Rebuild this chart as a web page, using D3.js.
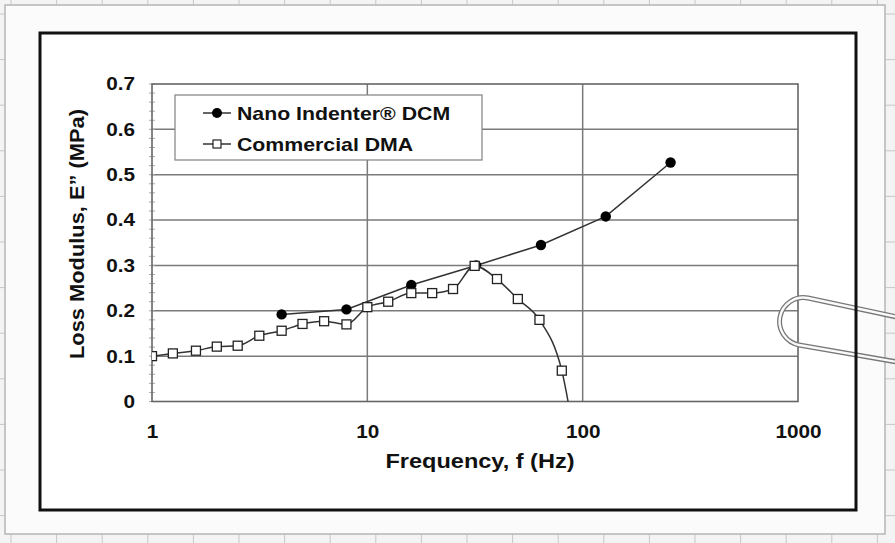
<!DOCTYPE html>
<html>
<head>
<meta charset="utf-8">
<script src="https://cdn.jsdelivr.net/npm/d3@7"></script>
<style>
  body { margin: 0; background: #f4f4f4; }
  svg text { font-family: "Liberation Sans", Arial, sans-serif; font-weight: bold; fill: #111; }
</style>
</head>
<body>
<svg id="chart" width="895" height="543"></svg>
<script>
// data (log frequency axis)
const decades = [1, 10, 100, 1000];
const yTicks = [0, 0.1, 0.2, 0.3, 0.4, 0.5, 0.6, 0.7];
const dcmFreq = [4, 8, 16, 32, 64, 128, 256];
const dcmLoss = [0.192, 0.203, 0.257, 0.300, 0.345, 0.408, 0.527];
const dmaFreq = [1, 1.25, 1.6, 2, 2.5, 3.15, 4, 5, 6.3, 8, 10, 12.5, 16, 20, 25, 31.5, 40, 50, 63, 80, 100];
const dmaLoss = [0.100, 0.106, 0.112, 0.121, 0.123, 0.145, 0.156, 0.171, 0.177, 0.170, 0.208, 0.220, 0.239, 0.239, 0.248, 0.299, 0.270, 0.226, 0.180, 0.068, -0.2];
const seriesNames = ['Nano Indenter® DCM', 'Commercial DMA'];

const svg = d3.select('#chart');
const plot = {left: 152, right: 798, top: 84, bottom: 401.5};
const stretch_k = 1.12;   // scanned text is a little wider than Arial

const x = d3.scaleLog().domain([1, 1000]).range([plot.left, plot.right]);
const y = d3.scaleLinear().domain([0, 0.7]).range([plot.bottom, plot.top]);

const stretch = function(sel){
    sel.each(function(){
        const w = this.getComputedTextLength();
        d3.select(this).attr('textLength', w * stretch_k).attr('lengthAdjust', 'spacingAndGlyphs');
    });
};

// graph paper behind the sheet
const paper = svg.append('g').attr('stroke', '#c8c8c8').attr('stroke-width', 1);
for (let gx = 11; gx < 895; gx += 45.6) paper.append('line').attr('x1', gx).attr('x2', gx).attr('y1', 0).attr('y2', 543);
for (let gy = 14; gy < 543; gy += 45.6) paper.append('line').attr('x1', 0).attr('x2', 895).attr('y1', gy).attr('y2', gy);

svg.append('rect')
    .attr('x', 5).attr('y', 5).attr('width', 880).attr('height', 529)
    .attr('fill', '#fbfbfb').attr('stroke', '#b5b5b5').attr('stroke-width', 1.5);

svg.append('rect')
    .attr('x', 40).attr('y', 33).attr('width', 816).attr('height', 477)
    .attr('fill', '#ffffff');

// gridlines
const grid = svg.append('g').attr('stroke', '#7a7a7a').attr('stroke-width', 1.5);
grid.selectAll('.hg')
    .data(yTicks.filter(d => d > 0 && d < 0.7))
    .enter().append('line')
    .attr('x1', plot.left).attr('x2', plot.right)
    .attr('y1', d => y(d)).attr('y2', d => y(d));
grid.selectAll('.vg')
    .data(decades.slice(1, 3))
    .enter().append('line')
    .attr('y1', plot.top).attr('y2', plot.bottom)
    .attr('x1', d => x(d)).attr('x2', d => x(d));

// minor ticks on the value axis
svg.append('g').attr('stroke', '#aaa').attr('stroke-width', 1)
    .selectAll('line')
    .data(d3.range(0, 0.701, 0.02))
    .enter().append('line')
    .attr('x1', plot.left - 3).attr('x2', plot.left + 3)
    .attr('y1', d => y(d)).attr('y2', d => y(d));

// plot border
svg.append('rect')
    .attr('x', plot.left).attr('y', plot.top)
    .attr('width', plot.right - plot.left).attr('height', plot.bottom - plot.top)
    .attr('fill', 'none').attr('stroke', '#666').attr('stroke-width', 1.6);

// axes
const yAxis = svg.append('g')
    .attr('transform', `translate(${plot.left},0)`)
    .call(d3.axisLeft(y).tickValues(yTicks).tickSize(0).tickPadding(17)
        .tickFormat(d => d === 0 ? '0' : d3.format('.1f')(d)));
yAxis.select('.domain').remove();
yAxis.selectAll('text').style('font-size', '18.5px').attr('font-family', null).call(stretch);

const xAxis = svg.append('g')
    .attr('transform', `translate(0,${plot.bottom})`)
    .call(d3.axisBottom(x).tickValues(decades).tickSize(0).tickPadding(23).tickFormat(d3.format('d')));
xAxis.select('.domain').remove();
xAxis.selectAll('text').style('font-size', '18.5px').attr('font-family', null).call(stretch);

svg.append('text')
    .attr('x', 480).attr('y', 468)
    .attr('text-anchor', 'middle')
    .style('font-size', '21px')
    .text('Frequency, f (Hz)')
    .call(stretch);

svg.append('text')
    .attr('transform', 'translate(84,234) rotate(-90)')
    .attr('text-anchor', 'middle')
    .style('font-size', '19.5px')
    .text('Loss Modulus, E\u201d (MPa)')
    .call(stretch);

// clip to plot area
svg.append('clipPath').attr('id', 'plot-clip')
  .append('rect')
    .attr('x', plot.left).attr('y', plot.top)
    .attr('width', plot.right - plot.left).attr('height', plot.bottom - plot.top);

const dcm = dcmFreq.map((f, i) => ({f: f, v: dcmLoss[i]}));
const dma = dmaFreq.map((f, i) => ({f: f, v: dmaLoss[i]}));

const dcmLine = d3.line()
    .x(d => x(d.f))
    .y(d => y(d.v));
const dmaLine = d3.line()
    .x(d => x(d.f))
    .y(d => y(d.v))
    .curve(d3.curveMonotoneX);

const marks = svg.append('g').attr('clip-path', 'url(#plot-clip)');

marks.append('path')
    .attr('d', dcmLine(dcm))
    .attr('fill', 'none').attr('stroke', '#333').attr('stroke-width', 1.5);
marks.selectAll('.dcm')
    .data(dcm)
    .enter().append('circle')
    .attr('cx', d => x(d.f)).attr('cy', d => y(d.v))
    .attr('r', 5.2).attr('fill', '#000');

marks.append('path')
    .attr('d', dmaLine(dma))
    .attr('fill', 'none').attr('stroke', '#333').attr('stroke-width', 1.5);
marks.selectAll('.dma')
    .data(dma)
    .enter().append('rect')
    .attr('x', d => x(d.f) - 4.5).attr('y', d => y(d.v) - 4.5)
    .attr('width', 9).attr('height', 9)
    .attr('fill', '#fff').attr('stroke', '#222').attr('stroke-width', 1.3);

// legend
const legend = svg.append('g');
legend.append('rect')
    .attr('x', 175).attr('y', 95).attr('width', 307).attr('height', 65)
    .attr('fill', '#fff').attr('stroke', '#8a8a8a').attr('stroke-width', 1.3);
const rows = legend.selectAll('.row')
    .data(seriesNames)
    .enter().append('g')
    .attr('transform', (d, i) => `translate(0,${113 + i * 31})`);
rows.append('line')
    .attr('x1', 203).attr('x2', 231).attr('y1', 0).attr('y2', 0)
    .attr('stroke', '#333').attr('stroke-width', 1.5);
rows.filter((d, i) => i === 0).append('circle')
    .attr('cx', 217).attr('cy', 0).attr('r', 5).attr('fill', '#000');
rows.filter((d, i) => i === 1).append('rect')
    .attr('x', 213).attr('y', -4).attr('width', 8).attr('height', 8)
    .attr('fill', '#fff').attr('stroke', '#222').attr('stroke-width', 1.2);
rows.append('text')
    .attr('x', 237).attr('y', 7)
    .style('font-size', '19px')
    .text(d => d)
    .call(stretch);

// paper clip on the right edge
const clipPath = 'M897,317 L808,298 A23,23 0 0 0 799,345 L897,362';
svg.append('path').attr('d', clipPath)
    .attr('fill', 'none').attr('stroke', '#777').attr('stroke-width', 5);
svg.append('path').attr('d', clipPath)
    .attr('fill', 'none').attr('stroke', '#fafafa').attr('stroke-width', 2.4);

// outer frame
svg.append('rect')
    .attr('x', 40).attr('y', 33).attr('width', 816).attr('height', 477)
    .attr('fill', 'none').attr('stroke', '#111').attr('stroke-width', 3);
</script>
</body>
</html>
